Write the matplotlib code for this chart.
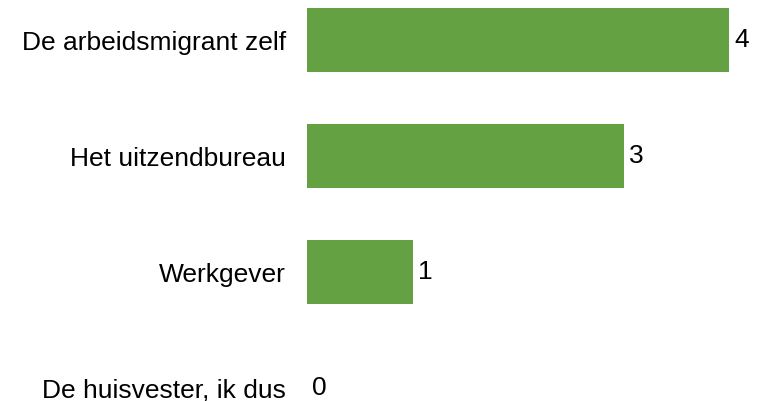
import numpy as np
import matplotlib.pyplot as plt

plt.rcParams['font.family'] = ['Liberation Sans', 'DejaVu Sans']

categories = ['De arbeidsmigrant zelf', 'Het uitzendbureau', 'Werkgever', 'De huisvester, ik dus']
values = [4, 3, 1, 0]

fig = plt.figure(figsize=(7.64, 4.01), dpi=100)
ax = fig.add_axes([307 / 764, 0, 454 / 764, 1])

y = np.arange(len(categories))
ax.barh(y, values, height=0.55, color='#64a143')
for yi, v in zip(y, values):
    ax.text(v + 0.05, yi, str(v), va='center', ha='left', fontsize=19)

ax.set_xlim(0, 4.3)
ax.set_ylim(3.112, -0.345)
ax.set_yticks(y)
ax.set_yticklabels(categories, fontsize=19)
ax.tick_params(axis='y', length=0, pad=15)
ax.set_xticks([])
for s in ax.spines.values():
    s.set_visible(False)

fig.savefig('out.png', dpi=100)
